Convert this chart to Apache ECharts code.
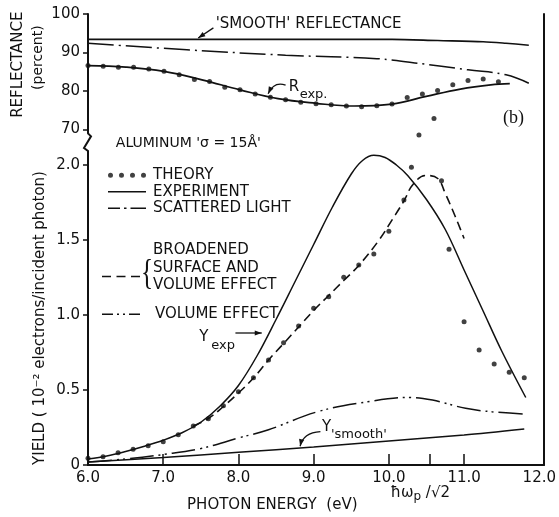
<!DOCTYPE html>
<html>
<head>
<meta charset="utf-8">
<script src="https://cdn.jsdelivr.net/npm/echarts@6/dist/echarts.min.js"></script>
<style>
  html, body { margin: 0; padding: 0; background: #fff; }
  #chart { width: 559px; height: 517px; }
</style>
</head>
<body>
<div id="chart"></div>
<script>
// ---- axis ticks and labels ----
const energyTickLabels = [6, 7, 8, 9, 10, 11, 12];
const energyInnerTicks = [7, 8, 9, 10, 10.55, 11];
const plasmonEnergy = 10.55;              // hbar*omega_p / sqrt(2)
const reflTicks = [70, 80, 90, 100];
const yieldTicks = [0, 0.5, 1.0, 1.5, 2.0];

// ---- reflectance panel (percent) ----
const smoothReflE = [6.0, 8.0, 10.0, 10.6, 11.2, 11.5, 11.8];
const smoothReflR = [93.4, 93.4, 93.4, 93.1, 92.8, 92.4, 91.9];

const scatterReflE = [6.0, 7.3, 8.6, 9.8, 10.3, 11.0, 11.5, 11.8];
const scatterReflR = [92.4, 90.7, 89.3, 88.4, 87.3, 85.5, 84.2, 82.0];

const rExpE = [6.0, 6.5, 7.0, 7.5, 8.0, 8.5, 9.0, 9.5, 10.0, 10.45, 10.9, 11.3, 11.55];
const rExpR = [86.6, 86.2, 85.1, 82.9, 80.3, 78.0, 76.8, 76.1, 76.6, 78.6, 80.5, 81.6, 81.9];

const theoryReflE = [6.0, 6.2, 6.4, 6.6, 6.8, 7.0, 7.2, 7.4, 7.6, 7.8, 8.0, 8.2, 8.4, 8.6,
                     8.8, 9.0, 9.2, 9.4, 9.6, 9.8, 10.0, 10.2, 10.4, 10.6, 10.8, 11.0, 11.2, 11.4];
const theoryReflR = [86.6, 86.4, 86.2, 86.2, 85.7, 85.1, 84.2, 83.0, 82.5, 81.0, 80.3, 79.2, 78.4, 77.7,
                     77.1, 76.7, 76.4, 76.1, 75.9, 76.2, 76.6, 78.3, 79.2, 80.1, 81.6, 82.7, 83.1, 82.4];

// ---- yield panel (10^-2 electrons / incident photon) ----
const yExpE = [6.0, 6.25, 6.5, 6.75, 7.0, 7.25, 7.5, 7.75, 8.0, 8.25, 8.5, 8.75, 9.0, 9.25, 9.5,
               9.65, 9.8, 9.95, 10.1, 10.25, 10.5, 10.75, 11.0, 11.25, 11.5, 11.82];
const yExpY = [0.04, 0.06, 0.09, 0.125, 0.165, 0.215, 0.285, 0.39, 0.53, 0.73, 0.97, 1.22, 1.47, 1.72, 1.94,
               2.03, 2.065, 2.05, 2.0, 1.93, 1.77, 1.57, 1.30, 1.03, 0.76, 0.45];

const broadE = [7.4, 7.6, 7.8, 8.0, 8.2, 8.4, 8.6, 8.8, 9.0, 9.2, 9.4, 9.6, 9.87, 10.05, 10.2, 10.32,
                10.49, 10.65, 10.75, 10.88, 11.0];
const broadY = [0.26, 0.31, 0.39, 0.48, 0.58, 0.70, 0.81, 0.92, 1.03, 1.13, 1.23, 1.33, 1.50, 1.64, 1.76, 1.87,
                1.93, 1.91, 1.81, 1.66, 1.51];

const volumeE = [6.0, 6.5, 7.0, 7.5, 8.0, 8.4, 9.05, 9.7, 10.28, 10.58, 11.02, 11.37, 11.81];
const volumeY = [0.02, 0.04, 0.07, 0.11, 0.18, 0.235, 0.355, 0.42, 0.45, 0.433, 0.378, 0.355, 0.34];

const ySmoothE = [6.0, 7.0, 8.0, 9.0, 10.0, 11.0, 11.8];
const ySmoothY = [0.02, 0.05, 0.085, 0.12, 0.16, 0.20, 0.24];

const theoryYieldE = [6.0, 6.2, 6.4, 6.6, 6.8, 7.0, 7.2, 7.4, 7.6, 7.8, 8.0, 8.2, 8.4, 8.6, 8.8, 9.0,
                      9.2, 9.4, 9.6, 9.8, 10.0, 10.2, 10.3, 10.4, 10.6, 10.7, 10.8, 11.0, 11.2, 11.4, 11.6, 11.8];
const theoryYieldY = [0.045, 0.055, 0.082, 0.105, 0.129, 0.155, 0.202, 0.26, 0.309, 0.395, 0.489, 0.582, 0.70, 0.815, 0.927, 1.045,
                      1.122, 1.251, 1.333, 1.407, 1.558, 1.767, 1.985, 2.20, 2.31, 1.895, 1.438, 0.955, 0.767, 0.673, 0.618, 0.582];

const zip = (xs, ys) => xs.map((x, i) => [x, ys[i]]);

const ink = '#111';
const FONT = 'DejaVu Sans';
const axisLineStyle = { color: ink, width: 2 };

// dash patterns used on the curves
const DASH_DOT = [26, 5, 2, 5];
const DASH_DOT_DOT = [24, 5, 2, 4, 2, 5];
const DASHED = [9, 5];

// legend keys drawn as small filled paths (38 wide)
const dotsIcon = 'path://M0,2.5a2.5,2.5 0 1,0 5,0a2.5,2.5 0 1,0 -5,0' +
                 'M11,2.5a2.5,2.5 0 1,0 5,0a2.5,2.5 0 1,0 -5,0' +
                 'M22,2.5a2.5,2.5 0 1,0 5,0a2.5,2.5 0 1,0 -5,0' +
                 'M33,2.5a2.5,2.5 0 1,0 5,0a2.5,2.5 0 1,0 -5,0';
const seg = (a, b) => 'M' + a + ',0H' + b + 'V1.6H' + a + 'Z';
const solidIcon = 'path://' + seg(0, 38);
const dashDotIcon = 'path://' + seg(0, 12) + seg(16, 18.5) + seg(22.5, 38);
const dashedIcon = 'path://' + seg(0, 9) + seg(14.5, 23.5) + seg(29, 38);
const dashDotDotIcon = 'path://' + seg(0, 11) + seg(15, 17) + seg(21, 23) + seg(27, 38);

function lineSeries(name, xi, yi, data, type, width, smooth) {
  return {
    type: 'line', name, xAxisIndex: xi, yAxisIndex: yi, data,
    symbol: 'none', smooth: smooth === undefined ? 0.4 : smooth,
    lineStyle: { color: ink, width: width || 1.5, type: type || 'solid' },
    itemStyle: { color: ink }, z: 3
  };
}

const legendText = { fontFamily: FONT, fontSize: 15, color: ink, lineHeight: 16.5 };

const option = {
  animation: false,
  backgroundColor: '#fff',
  textStyle: { fontFamily: FONT, color: ink },
  grid: [
    { left: 88, right: 15, top: 14, height: 119.35 },
    { left: 88, right: 15, top: 153, bottom: 52 },
    { left: 88, right: 15, top: 14, bottom: 52 }
  ],
  xAxis: [
    { gridIndex: 0, type: 'value', min: 6, max: 12, show: false },
    {
      gridIndex: 1, type: 'value', min: 6, max: 12, interval: 1,
      axisLine: { show: true, lineStyle: axisLineStyle },
      axisTick: { show: true, inside: true, length: 11, customValues: energyInnerTicks,
                  lineStyle: { color: ink, width: 1.5 } },
      axisLabel: { customValues: energyTickLabels, formatter: v => v.toFixed(1),
                   fontSize: 15, color: ink, margin: 6, fontFamily: FONT },
      splitLine: { show: false }
    },
    {
      gridIndex: 1, type: 'value', min: 6, max: 12, position: 'bottom',
      axisLine: { show: false }, axisTick: { show: false }, splitLine: { show: false },
      axisLabel: {
        customValues: [plasmonEnergy],
        formatter: () => '{a|ħω}{b|p}{a| /√2}',
        margin: 18, padding: [0, 20, 0, 0],
        rich: {
          a: { fontSize: 15, color: ink, fontFamily: FONT },
          b: { fontSize: 12, color: ink, fontFamily: FONT, padding: [8, 0, 0, 0] }
        }
      }
    },
    {
      gridIndex: 2, type: 'value', min: 6, max: 12, position: 'top',
      axisLine: { show: true, lineStyle: axisLineStyle },
      axisTick: { show: false }, axisLabel: { show: false }, splitLine: { show: false }
    }
  ],
  yAxis: [
    {
      gridIndex: 0, type: 'value', min: 69, max: 100,
      axisLine: { show: true, lineStyle: axisLineStyle },
      axisTick: { show: true, length: 5, customValues: reflTicks, lineStyle: { color: ink, width: 1.5 } },
      axisLabel: { customValues: reflTicks, fontSize: 15, color: ink, margin: 8, fontFamily: FONT },
      splitLine: { show: false }
    },
    {
      gridIndex: 1, type: 'value', min: 0, max: 2.08,
      axisLine: { show: true, lineStyle: axisLineStyle },
      axisTick: { show: true, length: 5, customValues: yieldTicks, lineStyle: { color: ink, width: 1.5 } },
      axisLabel: { customValues: yieldTicks, formatter: v => (v === 0 ? '0' : v.toFixed(1)),
                   fontSize: 15, color: ink, margin: 8, fontFamily: FONT },
      splitLine: { show: false }
    },
    {
      gridIndex: 2, type: 'value', min: 0, max: 1, position: 'right',
      axisLine: { show: true, lineStyle: axisLineStyle },
      axisTick: { show: false }, axisLabel: { show: false }, splitLine: { show: false }
    }
  ],
  legend: [
    {
      data: [
        { name: 'THEORY', icon: dotsIcon },
        { name: 'EXPERIMENT', icon: solidIcon },
        { name: 'SCATTERED LIGHT', icon: dashDotIcon }
      ],
      orient: 'vertical', left: 103, top: 162, itemWidth: 38, itemHeight: 12, itemGap: 0,
      selectedMode: false, textStyle: Object.assign({ padding: [0, 0, 0, 2] }, legendText)
    },
    {
      data: [{ name: 'SURFACE AND\nVOLUME EFFECT', icon: dashedIcon }],
      orient: 'vertical', left: 97, top: 255, itemWidth: 38, itemHeight: 12,
      selectedMode: false, textStyle: Object.assign({ padding: [0, 0, 0, 8] }, legendText)
    },
    {
      data: [{ name: 'VOLUME EFFECT', icon: dashDotDotIcon }],
      orient: 'vertical', left: 97, top: 301, itemWidth: 38, itemHeight: 12,
      selectedMode: false, textStyle: Object.assign({ padding: [0, 0, 0, 10] }, legendText)
    }
  ],
  series: [
    // reflectance panel
    lineSeries("'smooth' reflectance", 0, 0, zip(smoothReflE, smoothReflR), 'solid', 1.6, 0.3),
    lineSeries('SCATTERED LIGHT', 0, 0, zip(scatterReflE, scatterReflR), DASH_DOT, 1.5, 0.4),
    lineSeries('R exp.', 0, 0, zip(rExpE, rExpR), 'solid', 1.7, 0.4),
    {
      type: 'scatter', name: 'THEORY', xAxisIndex: 0, yAxisIndex: 0,
      data: zip(theoryReflE, theoryReflR), symbolSize: 5,
      itemStyle: { color: ink }, z: 5, clip: false
    },
    // yield panel
    lineSeries('EXPERIMENT', 1, 1, zip(yExpE, yExpY), 'solid', 1.5, 0.35),
    lineSeries('SURFACE AND\nVOLUME EFFECT', 1, 1, zip(broadE, broadY), DASHED, 1.6, 0.4),
    lineSeries('VOLUME EFFECT', 1, 1, zip(volumeE, volumeY), DASH_DOT_DOT, 1.5, 0.4),
    lineSeries("Y 'smooth'", 1, 1, zip(ySmoothE, ySmoothY), 'solid', 1.5, 0.3),
    {
      type: 'scatter', name: 'THEORY', xAxisIndex: 1, yAxisIndex: 1,
      data: zip(theoryYieldE, theoryYieldY), symbolSize: 5,
      itemStyle: { color: ink }, z: 5, clip: false
    }
  ]
};

const chart = echarts.init(document.getElementById('chart'), null, { renderer: 'canvas' });
chart.setOption(option);

// ---- titles, annotations and the axis break ----
function px(panel, e, v) {
  return chart.convertToPixel({ xAxisIndex: panel, yAxisIndex: panel }, [e, v]);
}
function text(str, pt, size, opts) {
  opts = opts || {};
  return {
    type: 'text', x: pt[0], y: pt[1], rotation: opts.rotation || 0, z: 10,
    scaleX: opts.scaleX || 1,
    style: {
      text: str, fill: ink,
      fontFamily: opts.family || FONT, fontSize: size, fontWeight: opts.weight || 'normal',
      align: opts.align || 'left', verticalAlign: 'middle',
      textAlign: opts.align || 'left', textVerticalAlign: 'middle'
    }
  };
}
function head(tip, from, len, wid) {
  len = len || 7; wid = wid || 2.6;
  const dx = tip[0] - from[0], dy = tip[1] - from[1];
  const L = Math.hypot(dx, dy) || 1;
  const ux = dx / L, uy = dy / L;
  const bx = tip[0] - ux * len, by = tip[1] - uy * len;
  return {
    type: 'polygon', z: 10,
    shape: { points: [tip, [bx - uy * wid, by + ux * wid], [bx + uy * wid, by - ux * wid]] },
    style: { fill: ink }
  };
}
function straightArrow(a, b) {
  return [
    { type: 'line', z: 10, shape: { x1: a[0], y1: a[1], x2: b[0], y2: b[1] }, style: { stroke: ink, lineWidth: 1.3 } },
    head(b, a)
  ];
}
function curvedArrow(a, c, b) {
  return [
    { type: 'bezierCurve', z: 10, shape: { x1: a[0], y1: a[1], cpx1: c[0], cpy1: c[1], x2: b[0], y2: b[1] },
      style: { stroke: ink, lineWidth: 1.3, fill: null } },
    head(b, c)
  ];
}

const g = [];
// axis titles
const reflMidY = px(0, 6, 84.5)[1];
g.push(text('REFLECTANCE', [18, reflMidY - 9], 15, { rotation: Math.PI / 2, align: 'center' }));
g.push(text('(percent)', [38, reflMidY - 16], 14, { rotation: Math.PI / 2, align: 'center' }));
g.push(text('YIELD ( 10⁻² electrons/incident photon)', [40, px(1, 6, 0.98)[1]], 15,
            { rotation: Math.PI / 2, align: 'center' }));
g.push(text('PHOTON ENERGY  (eV)', [px(1, 8.45, 0)[0], 505], 15, { align: 'center' }));

// reflectance panel labels
const sm = px(0, 7.68, 97.4);
g.push(text("'SMOOTH' REFLECTANCE", sm, 15));
g.push(...straightArrow(px(0, 7.65, 96.4), px(0, 7.45, 93.75)));
const rl = px(0, 8.64, 80.9);
g.push(text('R', rl, 15));
g.push(text('exp.', [rl[0] + 11, rl[1] + 7], 13));
g.push(...curvedArrow(px(0, 8.6, 81.5), px(0, 8.45, 82.6), px(0, 8.37, 79.3)));
g.push(text('(b)', px(0, 11.6, 73.0), 18, { family: 'Liberation Serif', align: 'center' }));

// between the panels
g.push(text("ALUMINUM 'σ = 15Å'", px(1, 6.37, 2.147), 14));

// yield panel labels
const ye = px(1, 7.48, 0.85);
g.push(text('Y', ye, 15));
g.push(text('exp', [ye[0] + 12, ye[1] + 8], 13));
g.push(...straightArrow(px(1, 7.96, 0.88), px(1, 8.31, 0.88)));
const ys = px(1, 9.11, 0.253);
g.push(text('Y', ys, 15));
g.push(text("'smooth'", [ys[0] + 9, ys[1] + 8], 13));
g.push(...curvedArrow(px(1, 9.09, 0.222), px(1, 8.86, 0.215), px(1, 8.82, 0.125)));

// legend extras: heading and brace for the broadened curve
g.push(text('BROADENED', [153, 250], 15));
g.push(text('{', [147, 275], 36, { family: 'Liberation Serif', align: 'center', scaleX: 0.7 }));

// axis break on the left spine
const xl = px(0, 6, 69)[0];
const yA = px(0, 6, 69)[1];
const yB = px(1, 6, 2.08)[1];
g.push({
  type: 'polyline', z: 10,
  shape: { points: [[xl, yA], [xl + 3, yA + 3], [xl - 4, yB - 5], [xl, yB - 2], [xl, yB]] },
  style: { stroke: ink, lineWidth: 2, fill: null }
});

chart.setOption({ graphic: { elements: g } });
</script>
</body>
</html>
